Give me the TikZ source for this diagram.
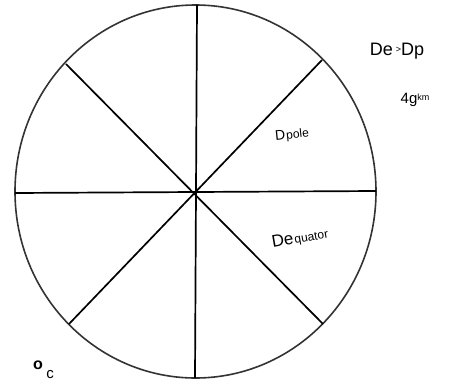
\documentclass[tikz,border=0pt]{standalone}
\usepackage{fontspec}
\setmainfont{Liberation Sans}
\begin{document}
\begin{tikzpicture}[x=1pt,y=-1pt,
  rim/.style={draw=black!80,line width=1.6pt},
  spoke/.style={draw=black,line width=1.7pt},
  hand/.style={inner sep=0pt,font=\fontsize{13}{13}\selectfont}]
\useasboundingbox (0,0) rectangle (458,383);
\coordinate (O) at (195.5,191.5);
\draw[rim] (O) ellipse [x radius=180.5, y radius=186.5];
\coordinate (T) at (197,5);
\coordinate (B) at (195,378);
\coordinate (L) at (15,193);
\coordinate (R) at (376,191);
\coordinate (UR) at (322,60);
\coordinate (UL) at (66,64);
\coordinate (LL) at (69,324);
\coordinate (LR) at (323,324);
\draw[spoke] (T) -- (B);
\draw[spoke] (L) -- (R);
\draw[spoke] (UL) -- (LR);
\draw[spoke] (LL) -- (UR);
\node[hand] (dedp) at (397,51) {\fontsize{18}{18}\selectfont De\,\raisebox{3pt}{\fontsize{9}{9}\selectfont >}Dp};
\node[hand] (km) at (415,100) {\fontsize{15}{15}\selectfont 4g\raisebox{3pt}{\fontsize{9}{9}\selectfont km}};
\node[hand,rotate=6] (dpole) at (292,135) {\fontsize{14}{14}\selectfont D\kern1pt\fontsize{12}{12}\selectfont pole};
\node[hand,rotate=10] (deq) at (300,238) {\fontsize{17}{17}\selectfont De\kern1pt\fontsize{12}{12}\selectfont quator};
\node[hand,font=\fontsize{16}{16}\bfseries] (deg) at (38,365) {o};
\node[hand,font=\fontsize{15}{15}\selectfont] (c) at (50,375) {c};
\end{tikzpicture}
\end{document}
